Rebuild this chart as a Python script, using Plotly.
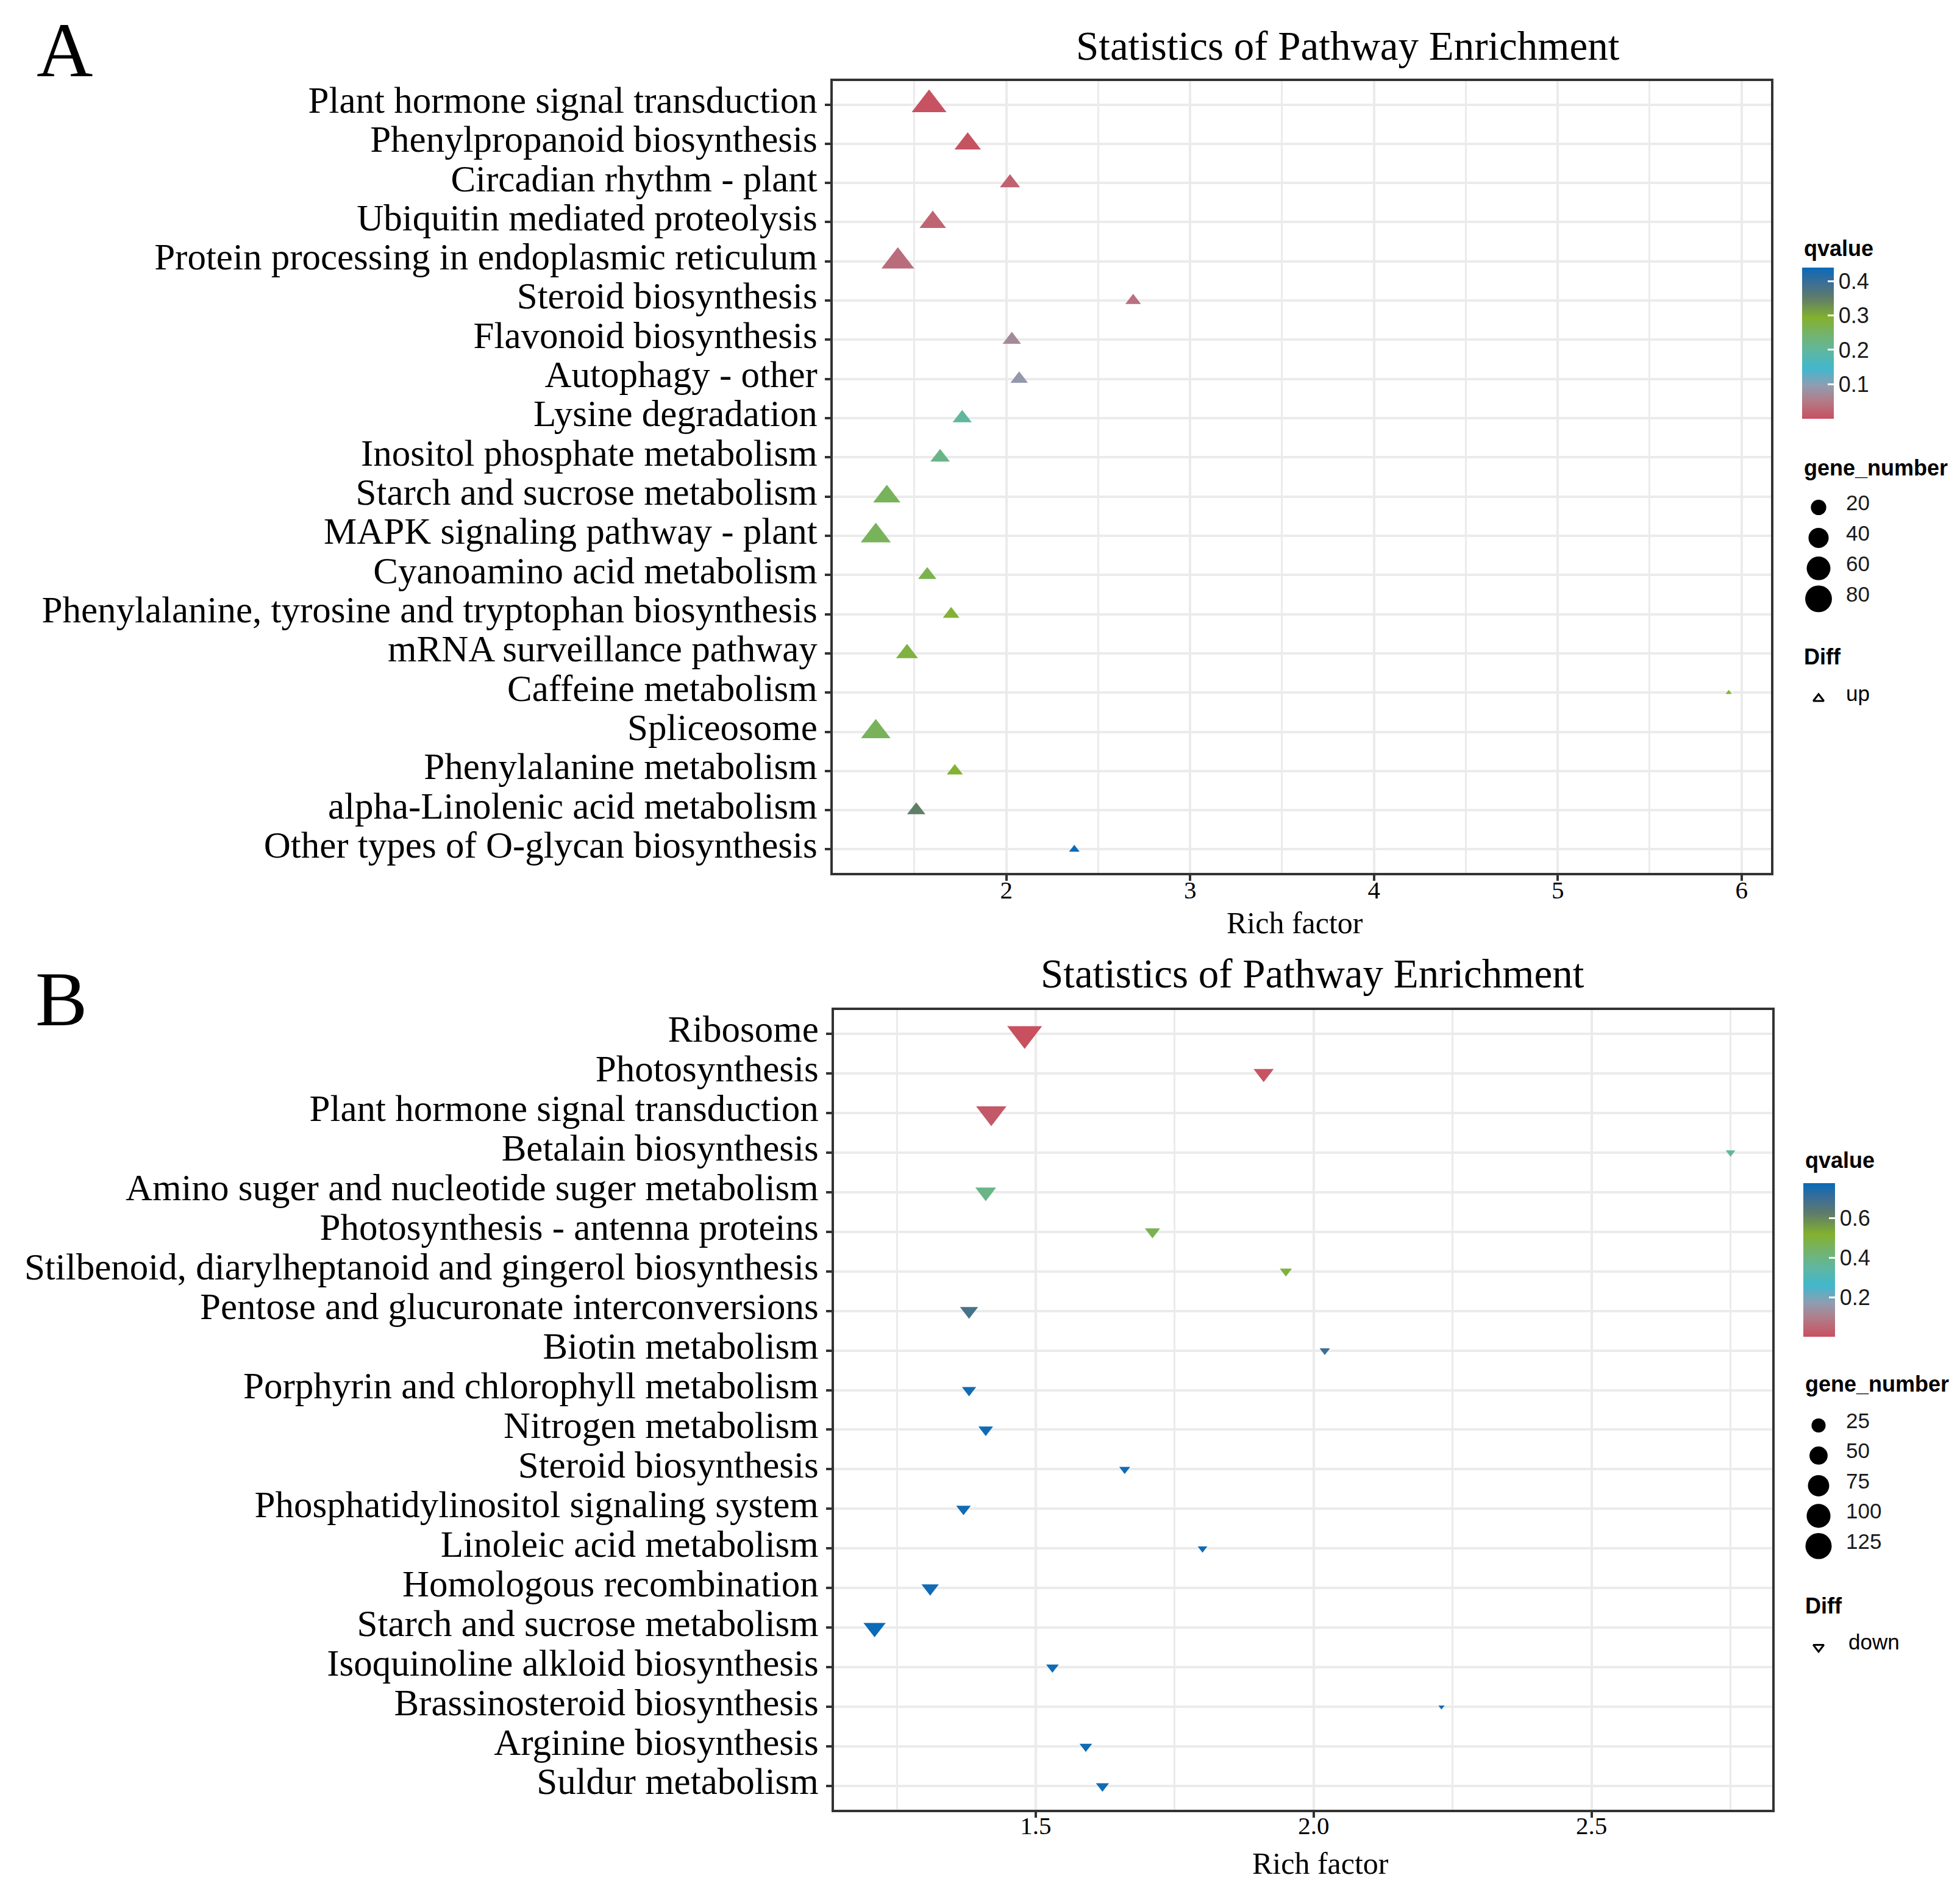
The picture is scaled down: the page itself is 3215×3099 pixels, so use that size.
import numpy as np
import plotly.graph_objects as go

W, H = 3215, 3099

# ---- panel A : up-regulated pathways ----
a_pathway = [
    "Plant hormone signal transduction", "Phenylpropanoid biosynthesis", "Circadian rhythm - plant",
    "Ubiquitin mediated proteolysis", "Protein processing in endoplasmic reticulum", "Steroid biosynthesis",
    "Flavonoid biosynthesis", "Autophagy - other", "Lysine degradation", "Inositol phosphate metabolism",
    "Starch and sucrose metabolism", "MAPK signaling pathway - plant", "Cyanoamino acid metabolism",
    "Phenylalanine, tyrosine and tryptophan biosynthesis", "mRNA surveillance pathway", "Caffeine metabolism",
    "Spliceosome", "Phenylalanine metabolism", "alpha-Linolenic acid metabolism", "Other types of O-glycan biosynthesis",
]
a_rich = [1.58, 1.79, 2.02, 1.60, 1.41, 2.69, 2.03, 2.07, 1.76, 1.64,
          1.35, 1.29, 1.57, 1.70, 1.46, 5.93, 1.29, 1.72, 1.51, 2.37]
a_gene = [85, 44, 22, 44, 74, 11, 17, 15, 19, 20,
          47, 60, 17, 13, 27, 2, 57, 12, 17, 4]
a_qvalue = [0.002, 0.004, 0.02, 0.025, 0.035, 0.04, 0.07, 0.09, 0.20, 0.22,
            0.26, 0.26, 0.27, 0.29, 0.28, 0.29, 0.26, 0.29, 0.35, 0.44]

# ---- panel B : down-regulated pathways ----
b_pathway = [
    "Ribosome", "Photosynthesis", "Plant hormone signal transduction", "Betalain biosynthesis",
    "Amino suger and nucleotide suger metabolism", "Photosynthesis - antenna proteins",
    "Stilbenoid, diarylheptanoid and gingerol biosynthesis", "Pentose and glucuronate interconversions",
    "Biotin metabolism", "Porphyrin and chlorophyll metabolism", "Nitrogen metabolism", "Steroid biosynthesis",
    "Phosphatidylinositol signaling system", "Linoleic acid metabolism", "Homologous recombination",
    "Starch and sucrose metabolism", "Isoquinoline alkloid biosynthesis", "Brassinosteroid biosynthesis",
    "Arginine biosynthesis", "Suldur metabolism",
]
b_rich = [1.48, 1.91, 1.42, 2.75, 1.41, 1.71, 1.95, 1.38, 2.02, 1.38,
          1.41, 1.66, 1.37, 1.80, 1.31, 1.21, 1.53, 2.23, 1.59, 1.62]
b_gene = [140, 35, 100, 4, 38, 16, 8, 26, 5, 13,
          14, 6, 14, 4, 23, 45, 9, 2, 9, 10]
b_qvalue = [0.0, 0.01, 0.02, 0.37, 0.39, 0.47, 0.50, 0.68, 0.70, 0.77,
            0.77, 0.77, 0.77, 0.77, 0.77, 0.78, 0.77, 0.77, 0.77, 0.77]

a_q_ticks = [0.1, 0.2, 0.3, 0.4]
b_q_ticks = [0.2, 0.4, 0.6]
a_size_breaks = [20, 40, 60, 80]
b_size_breaks = [25, 50, 75, 100, 125]

q_scale = [
    [0.0, "#C8505F"], [0.12, "#B27C89"], [0.22, "#8F9DB1"], [0.333, "#41B7CD"],
    [0.45, "#5FB7A0"], [0.56, "#74B36C"], [0.667, "#83B12E"], [0.8, "#5F7C6A"],
    [0.9, "#3C6E96"], [1.0, "#0A6AB8"],
]

SERIF = "Liberation Serif, Times New Roman, serif"
SANS = "Liberation Sans, Arial, sans-serif"


def px_x(p):
    return p / W


def px_y(p):
    return 1 - p / H


def dot_size(g, gmin, gmax):
    # area-like size scale, as ggplot's scale_size
    t = np.clip((np.asarray(g, dtype=float) - gmin) / (gmax - gmin), 0, 1)
    return 8 + 37 * np.sqrt(t)


fig = go.Figure()

fig.add_trace(go.Scatter(
    x=a_rich, y=a_pathway, mode="markers", xaxis="x", yaxis="y", showlegend=False,
    marker=dict(symbol="triangle-up", size=1.1 * dot_size(a_gene, min(a_gene), max(a_gene)), opacity=1,
                color=a_qvalue, coloraxis="coloraxis", line=dict(width=0)),
))
fig.add_trace(go.Scatter(
    x=b_rich, y=b_pathway, mode="markers", xaxis="x2", yaxis="y2", showlegend=False,
    marker=dict(symbol="triangle-down", size=1.1 * dot_size(b_gene, min(b_gene), max(b_gene)), opacity=1,
                color=b_qvalue, coloraxis="coloraxis2", line=dict(width=0)),
))

# size legends (drawn on a pixel-scaled helper axis at the right)
for breaks, genes, y0, step in [(a_size_breaks, a_gene, 823, 50), (b_size_breaks, b_gene, 2330, 49.5)]:
    fig.add_trace(go.Scatter(
        x=[2975] * len(breaks), y=[y0 + step * i for i in range(len(breaks))],
        mode="markers", xaxis="x3", yaxis="y3", showlegend=False, hoverinfo="skip",
        marker=dict(symbol="circle", color="black", opacity=1,
                    size=dot_size(breaks, min(genes), max(genes)), line=dict(width=0)),
    ))
    for i, b in enumerate(breaks):
        fig.add_annotation(x=px_x(3018), y=px_y(y0 + step * i - 8), xref="paper", yref="paper",
                           text=str(b), showarrow=False, xanchor="left", yanchor="middle",
                           font=dict(family=SANS, size=35, color="#1a1a1a"))

fig.add_trace(go.Scatter(
    x=[2975, 2975], y=[1137, 2694], mode="markers", xaxis="x3", yaxis="y3",
    showlegend=False, hoverinfo="skip",
    marker=dict(symbol=["triangle-up-open", "triangle-down-open"], color="black", size=15, opacity=1,
                line=dict(width=3, color="black")),
))

grid = "#EBEBEB"
frame = "#333333"
axis_common = dict(
    showline=True, mirror=True, linecolor=frame, linewidth=4,
    ticks="outside", ticklen=9, tickwidth=4, tickcolor=frame,
    showgrid=True, gridcolor=grid, gridwidth=4, zeroline=False,
)

fig.update_layout(
    width=W, height=H,
    margin=dict(l=0, r=0, t=0, b=0),
    paper_bgcolor="white", plot_bgcolor="rgba(0,0,0,0)",
    xaxis=dict(domain=[px_x(1358), px_x(2897)], range=[1.056, 6.16], anchor="y",
               tick0=0, dtick=1, ticklabelstandoff=-20,
               tickfont=dict(family=SERIF, size=41, color="black"),
               minor=dict(dtick=0.5, tick0=0, showgrid=True, gridcolor=grid, gridwidth=2.5, ticks=""),
               **axis_common),
    yaxis=dict(domain=[px_y(1423), px_y(123)], anchor="x", type="category",
               categoryorder="array", categoryarray=a_pathway, range=[19.6, -0.6],
               tickmode="linear", tick0=0, dtick=1, ticklabelshift=8,
               tickfont=dict(family=SERIF, size=61, color="black"), **axis_common),
    xaxis2=dict(domain=[px_x(1360), px_x(2899)], range=[1.137, 2.825], anchor="y2",
                tick0=0, dtick=0.5, tickformat=".1f", ticklabelstandoff=-22,
                tickfont=dict(family=SERIF, size=41, color="black"),
                minor=dict(dtick=0.25, tick0=0, showgrid=True, gridcolor=grid, gridwidth=2.5, ticks=""),
                **axis_common),
    yaxis2=dict(domain=[px_y(2961), px_y(1648)], anchor="x2", type="category",
                categoryorder="array", categoryarray=b_pathway, range=[19.6, -0.6],
                tickmode="linear", tick0=0, dtick=1, ticklabelshift=8,
                tickfont=dict(family=SERIF, size=61, color="black"), **axis_common),
    xaxis3=dict(domain=[px_x(2905), 1], range=[2905, W], visible=False, anchor="y3"),
    yaxis3=dict(domain=[0, 1], range=[H, 0], visible=False, anchor="x3"),
    coloraxis=dict(
        cmin=0, cmax=0.44, colorscale=q_scale,
        colorbar=dict(x=px_x(2948), xanchor="left", xpad=0, ypad=0, y=px_y(553), yanchor="middle",
                      len=248, lenmode="pixels", thickness=52, thicknessmode="pixels", outlinewidth=0,
                      tickvals=a_q_ticks, ticks="inside", ticklen=10, tickwidth=3, tickcolor="white",
                      tickfont=dict(family=SANS, size=36, color="#1a1a1a")),
    ),
    coloraxis2=dict(
        cmin=0, cmax=0.78, colorscale=q_scale,
        colorbar=dict(x=px_x(2950), xanchor="left", xpad=0, ypad=0, y=px_y(2058), yanchor="middle",
                      len=252, lenmode="pixels", thickness=52, thicknessmode="pixels", outlinewidth=0,
                      tickvals=b_q_ticks, ticks="inside", ticklen=10, tickwidth=3, tickcolor="white",
                      tickfont=dict(family=SANS, size=36, color="#1a1a1a")),
    ),
)

# titles, axis titles and legend headings (y = glyph centre in reference pixels)
texts = [
    ("Statistics of Pathway Enrichment", 2203, 74, SERIF, 67, "center"),
    ("Statistics of Pathway Enrichment", 2145, 1597, SERIF, 67, "center"),
    ("Rich factor", 2116, 1514, SERIF, 50, "center"),
    ("Rich factor", 2158, 3058, SERIF, 50, "center"),
    ("<b>qvalue</b>", 2949, 407, SANS, 36, "left"),
    ("<b>gene_number</b>", 2949, 767, SANS, 36, "left"),
    ("<b>Diff</b>", 2949, 1077, SANS, 36, "left"),
    ("up", 3018, 1137, SANS, 35, "left"),
    ("<b>qvalue</b>", 2951, 1904, SANS, 36, "left"),
    ("<b>gene_number</b>", 2951, 2271, SANS, 36, "left"),
    ("<b>Diff</b>", 2951, 2635, SANS, 36, "left"),
    ("down", 3022, 2694, SANS, 35, "left"),
]
for txt, x, y, fam, size, anchor in texts:
    fig.add_annotation(x=px_x(x), y=px_y(y - 9), xref="paper", yref="paper", text=txt, showarrow=False,
                       xanchor=anchor, yanchor="middle", font=dict(family=fam, size=size, color="black"))

# panel letters (anchored by box top so they stay inside the page)
for letter, x, top in [("A", 98, 0), ("B", 92, 1558)]:
    fig.add_annotation(x=px_x(x), y=px_y(top), xref="paper", yref="paper", text=letter, showarrow=False,
                       xanchor="center", yanchor="top", borderpad=0,
                       font=dict(family=SERIF, size=128, color="black"))

fig.write_html("out.html")
